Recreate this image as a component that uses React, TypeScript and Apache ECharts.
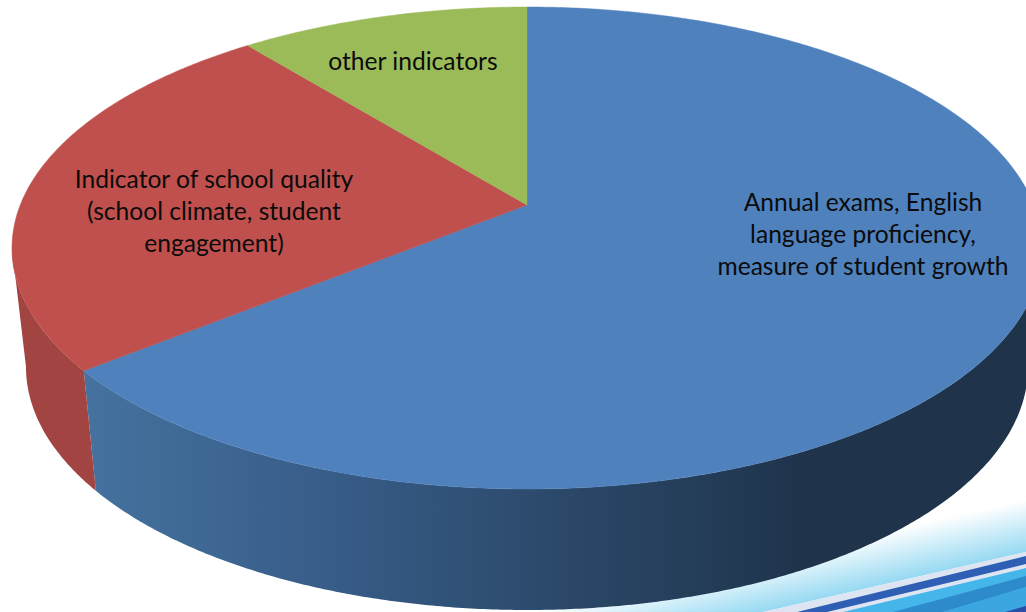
import React, { useEffect, useRef } from "react";
import * as echarts from "echarts";

const categories = [
  "Annual exams, English\nlanguage proficiency,\nmeasure of student growth",
  "Indicator of school quality\n(school climate, student\nengagement)",
  "other indicators",
];
const shares = [64.15, 25.05, 10.8];
const topColors = ["#4F81BD", "#C0504D", "#9BBB59"];
const labelAnchors = [[863, 233], [214, 210], [413, 60]];

const TOP = { cx: 527, cy: 248, rx: 515, ry: 241 };
const BOTTOM = { cx: 527, cy: 367, rx: 501, ry: 243 };
const APEX_SHIFT = -0.178; // perspective shift of the pie's centre inside its ellipse
const APEX = { x: 527, y: 205 };
const total = shares.reduce((a, b) => a + b, 0);

function paramOf(alphaDeg: number) {
  const a = (alphaDeg * Math.PI) / 180;
  const x = Math.sin(a);
  const y = -Math.cos(a);
  const d = 1 + APEX_SHIFT * y;
  const xp = (x * Math.sqrt(1 - APEX_SHIFT * APEX_SHIFT)) / d;
  const yp = (y + APEX_SHIFT) / d;
  let t = (Math.atan2(xp, -yp) * 180) / Math.PI;
  if (t < 0) t += 360;
  return t;
}
function onEllipse(e: typeof TOP, tDeg: number) {
  const t = (tDeg * Math.PI) / 180;
  return [e.cx + e.rx * Math.sin(t), e.cy - e.ry * Math.cos(t)];
}
function arc(e: typeof TOP, t0: number, t1: number) {
  const pts: number[][] = [];
  const n = Math.max(2, Math.ceil(Math.abs(t1 - t0) * 2));
  for (let i = 0; i <= n; i++) pts.push(onEllipse(e, t0 + ((t1 - t0) * i) / n));
  return pts;
}

function sideFill(i: number) {
  if (i === 0) {
    return new echarts.graphic.LinearGradient(
      84, 0, 800, 0,
      [
        { offset: 0, color: "#45729F" },
        { offset: 0.35, color: "#375C87" },
        { offset: 1, color: "#1F344B" },
      ],
      true
    );
  }
  return "#A24441";
}

const renderItem = (params: any) => {
  const i = params.dataIndex;
  const before = shares.slice(0, i).reduce((a, b) => a + b, 0);
  const t0 = i === 0 ? 0 : paramOf((before / total) * 360);
  let t1 = paramOf(((before + shares[i]) / total) * 360);
  if (i === shares.length - 1 || t1 <= t0) t1 = 360;
  const children: any[] = [];
  const s0 = Math.max(t0, 90);
  const s1 = Math.min(t1, 270);
  if (s1 > s0) {
    const pts = arc(TOP, s0, s1).concat(arc(BOTTOM, s1, s0));
    children.push({
      type: "polygon",
      shape: { points: pts },
      style: { fill: sideFill(i) },
    });
  }
  children.push({
    type: "polygon",
    shape: { points: [[APEX.x, APEX.y], ...arc(TOP, t0, t1)] },
    style: { fill: topColors[i], stroke: topColors[i], lineWidth: 0.5 },
  });
  children.push({
    type: "text",
    z2: 10,
    style: {
      text: categories[i],
      x: labelAnchors[i][0],
      y: labelAnchors[i][1],
      align: "center",
      verticalAlign: "middle",
      fontFamily: "Lato",
      fontSize: 24.6,
      lineHeight: 32,
      fill: "#0b0b0b",
    },
  });
  return { type: "group", children };
};

function band(points: number[][], fill: any) {
  return { type: "polygon", z: -1, shape: { points }, style: { fill } };
}

const swoosh = [
  band([[500, 672], [1026, 552], [1026, 490], [500, 610]],
    new echarts.graphic.LinearGradient(1014.6, 502, 1026, 552, [
      { offset: 0, color: "#FFFFFF" },
      { offset: 1, color: "#96D9F2" },
    ], true)),
  band([[763, 612], [1026, 552], [1026, 612]], "#DDE5F2"),
  band([[797, 612], [1026, 556], [1026, 564], [827, 612]], "#2F5FB5"),
  band([[843, 612], [1026, 568], [1026, 612]], "#45B6EA"),
  band([[893, 612], [1026, 576], [1026, 587], [943, 612]], "#2E8BCB"),
  band([[943, 612], [1026, 587], [1026, 612]], "#3BA6E0"),
  band([[1005, 612], [1026, 606], [1026, 612]], "#2B4EA8"),
];

export default function App() {
  const ref = useRef<HTMLDivElement>(null);
  useEffect(() => {
    document.body.style.margin = "0";
    const chart = echarts.init(ref.current!, undefined, { renderer: "svg" });
    chart.setOption({
      animation: false,
      backgroundColor: "#FFFFFF",
      graphic: { elements: swoosh },
      series: [
        {
          type: "custom",
          coordinateSystem: "none",
          z: 5,
          silent: true,
          renderItem,
          data: shares.map((value, i) => ({ value, name: categories[i] })),
        },
      ],
    });
    return () => chart.dispose();
  }, []);
  return <div ref={ref} style={{ width: 1026, height: 612 }} />;
}
